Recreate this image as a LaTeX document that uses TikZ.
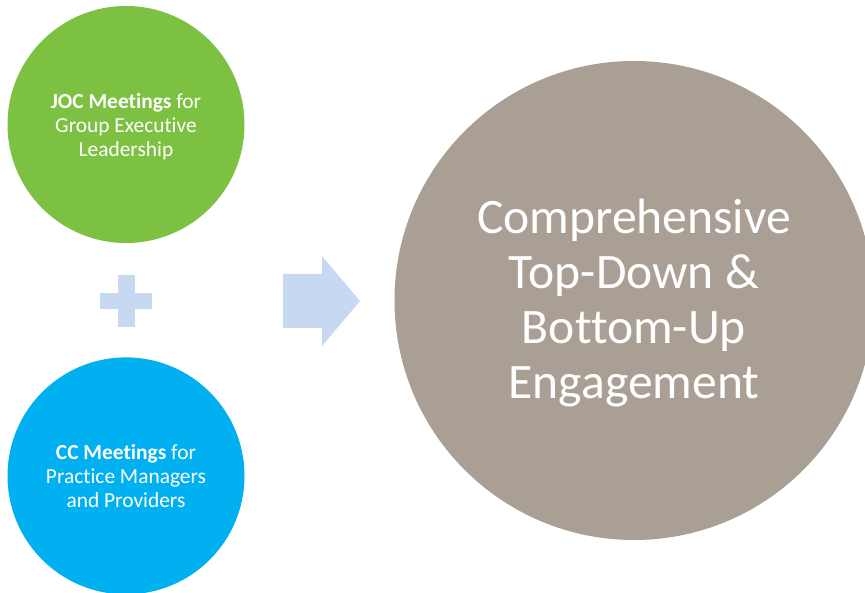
\documentclass[tikz,border=0pt]{standalone}
\usepackage{fontspec}
\setmainfont{Carlito}[Ligatures=NoCommon]
\usepackage{tikz}
\usetikzlibrary{positioning}
\definecolor{jocgreen}{HTML}{7CC142}
\definecolor{ccblue}{HTML}{00B0F0}
\definecolor{engtaupe}{HTML}{AA9F94}
\definecolor{paleblue}{HTML}{C6D9F1}

\begin{document}
\begin{tikzpicture}[x=1pt, y=1pt,
  meeting/.style={circle, inner sep=0pt, minimum size=237pt},
  meettext/.style={text=white, align=center, yshift=-2pt,
    font=\fontsize{21.4}{24}\selectfont},
  outcome/.style={circle, inner sep=0pt, minimum size=479pt},
  outtext/.style={text=white, align=center, yshift=-3pt,
    font=\fontsize{49.6}{55}\selectfont},
  sign/.style={fill=paleblue}]
\useasboundingbox (0,0) rectangle (865,592);
\clip (0,0) rectangle (865,592);
% meetings
\node[meeting, fill=jocgreen,
  label={[meettext]center:\textbf{JOC Meetings} for\\Group Executive\\Leadership}] (joc) at (126,467.5) {};
\node[meeting, fill=ccblue, below=114pt of joc,
  label={[meettext, yshift=1.5pt]center:\textbf{CC Meetings} for\\Practice Managers\\and Providers}] (cc) {};
% plus
\coordinate (plus) at (126,291);
\fill[sign] ([xshift=-8.5pt, yshift=-26pt]plus) rectangle ([xshift=8.5pt, yshift=26pt]plus);
\fill[sign] ([xshift=-26pt, yshift=-8pt]plus) rectangle ([xshift=26pt, yshift=8pt]plus);
% arrow
\fill[sign] (283,264) -- (322,264) -- (322,246) -- (360,291) -- (322,336) -- (322,318) -- (283,318) -- cycle;
% result
\node[outcome, fill=engtaupe,
  label={[outtext]center:Comprehensive\\Top-Down \&\\Bottom-Up\\Engagement}] (eng) at (634,291.5) {};
\end{tikzpicture}
\end{document}
